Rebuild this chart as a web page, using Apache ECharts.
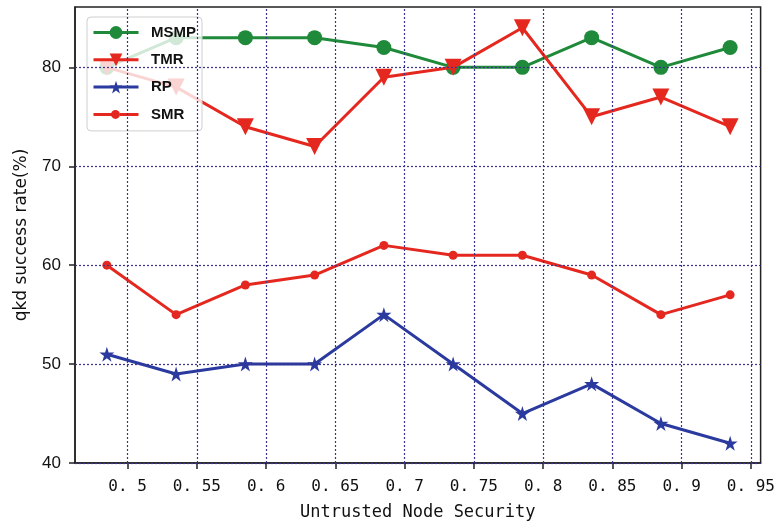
<!DOCTYPE html>
<html><head><meta charset="utf-8">
<script src="https://cdn.jsdelivr.net/npm/echarts@6/dist/echarts.min.js"></script>
<style>html,body{margin:0;padding:0;background:#fff}#c{width:778px;height:527px}</style>
</head><body><div id="c"></div>
<script>
const xValues = [0.485, 0.535, 0.585, 0.635, 0.685, 0.735, 0.785, 0.835, 0.885, 0.935];
const msmp = [80, 83, 83, 83, 82, 80, 80, 83, 80, 82];
const tmr  = [80, 78, 74, 72, 79, 80, 84, 75, 77, 74];
const rp   = [51, 49, 50, 50, 55, 50, 45, 48, 44, 42];
const smr  = [60, 55, 58, 59, 62, 61, 61, 59, 55, 57];
const xTicks = [0.5, 0.55, 0.6, 0.65, 0.7, 0.75, 0.8, 0.85, 0.9, 0.95];
const yTicks = [40, 50, 60, 70, 80];

const zip = ys => xValues.map((x, i) => [x, ys[i]]);
const star = 'path://M50,0 L61.2,34.5 L97.6,34.5 L68.2,55.9 L79.4,90.5 L50,69.1 L20.6,90.5 L31.8,55.9 L2.4,34.5 L38.8,34.5 Z';
const smrIcon = 'path://M0,6.5 L18.5,6.5 L18.5,9.5 L0,9.5 Z M26.5,6.5 L45,6.5 L45,9.5 L26.5,9.5 Z M26.5,8 A4.5,4.5 0 1,1 17.5,8 A4.5,4.5 0 1,1 26.5,8 Z';
const dotted = { color: '#3a3490', width: 1.2, type: [2, 2] };
const RED = '#e5281f', GREEN = '#1f8a3a', BLUE = '#2b3a9e';

const chart = echarts.init(document.getElementById('c'), null, { renderer: 'canvas' });
chart.setOption({
  animation: false,
  backgroundColor: '#fff',
  grid: { left: 75, right: 11, top: 7, bottom: 64, show: true, borderColor: '#222', borderWidth: 1.5, backgroundColor: 'transparent' },
  legend: {
    orient: 'vertical', left: 87, top: 17,
    itemWidth: 45, itemHeight: 16, itemGap: 12.3,
    padding: [8, 6, 9, 5],
    backgroundColor: 'rgba(255,255,255,0.8)', borderColor: '#cfcfcf', borderWidth: 1, borderRadius: 4,
    lineStyle: { width: 3 },
    formatter: name => '\u2002' + name,
    textStyle: { fontFamily: 'Liberation Sans', fontSize: 15, fontWeight: 'bold', color: '#111' },
    data: ['MSMP', 'TMR', 'RP', { name: 'SMR', icon: smrIcon }]
  },
  xAxis: {
    type: 'value', min: 0.462, max: 0.957,
    name: 'Untrusted Node Security', nameLocation: 'middle', nameGap: 41,
    nameTextStyle: { fontFamily: 'DejaVu Sans Mono', fontSize: 17, color: '#111' },
    axisLine: { show: true, onZero: false, lineStyle: { color: '#222', width: 1.5 } },
    axisTick: { show: true, length: 6, customValues: xTicks, lineStyle: { color: '#222', width: 1.5 } },
    axisLabel: { customValues: xTicks, margin: 16, fontFamily: 'DejaVu Sans Mono', fontSize: 16, color: '#111',
      formatter: v => String(v).replace('.', '. ') },
    splitLine: { show: false }
  },
  yAxis: {
    type: 'value', min: 40, max: 86.1,
    name: 'qkd success rate(%)', nameLocation: 'middle', nameGap: 45,
    nameTextStyle: { fontFamily: 'DejaVu Sans', fontSize: 17, color: '#111' },
    axisLine: { show: true, lineStyle: { color: '#222', width: 1.5 } },
    axisTick: { show: true, length: 6, customValues: yTicks, lineStyle: { color: '#222', width: 1.5 } },
    axisLabel: { customValues: yTicks, margin: 14, fontFamily: 'Liberation Sans', fontSize: 17, color: '#111' },
    splitLine: { show: false }
  },
  series: [
    { name: 'grid', type: 'line', data: [], z: 0, silent: true,
      markLine: { silent: true, symbol: ['none', 'none'], label: { show: false }, lineStyle: dotted, animation: false,
        data: xTicks.map(v => ({ xAxis: v })).concat(yTicks.map(v => ({ yAxis: v }))) } },
    { name: 'MSMP', type: 'line', data: zip(msmp), symbol: 'circle', symbolSize: 15,
      itemStyle: { color: GREEN }, lineStyle: { width: 3, color: GREEN }, z: 2 },
    { name: 'TMR', type: 'line', data: zip(tmr), symbol: 'triangle', symbolRotate: 180, symbolSize: 17,
      itemStyle: { color: RED }, lineStyle: { width: 3, color: RED }, z: 3 },
    { name: 'RP', type: 'line', data: zip(rp), symbol: star, symbolSize: 15,
      itemStyle: { color: BLUE }, lineStyle: { width: 3, color: BLUE }, z: 2 },
    { name: 'SMR', type: 'line', data: zip(smr), symbol: 'circle', symbolSize: 9,
      itemStyle: { color: RED }, lineStyle: { width: 3, color: RED }, z: 2 }
  ]
});
</script></body></html>
